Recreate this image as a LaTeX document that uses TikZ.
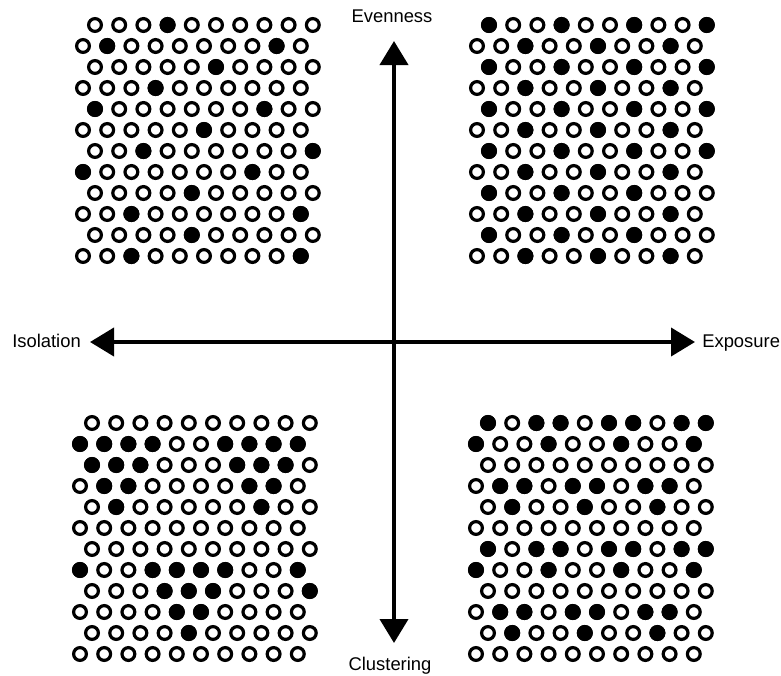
\documentclass[tikz,border=0pt]{standalone}
\usepackage{fontspec}
\setmainfont{Liberation Sans}
\usetikzlibrary{arrows.meta}
\tikzset{
  hollowdot/.style={draw=black,line width=2.4pt,fill=white},
  fulldot/.style={draw=black,line width=2.4pt,fill=black},
  axisarrow/.style={{Triangle[length=18pt,width=21pt]}-{Triangle[length=18pt,width=21pt]},line width=3pt},
  axislabel/.style={inner sep=0pt,font=\fontsize{13.8}{16}\selectfont}
}
% #1 x of unshifted rows, #2 y of first row, #3 shift of odd rows, #4 filled dots col/row
\newcommand{\dotgrid}[4]{%
  \foreach \r in {1,...,12}{
    \foreach \c in {1,...,10}{
      \draw[hollowdot] ({#1+(\c-1)*24.2+mod(\r,2)*#3},{#2+(\r-1)*21}) circle[radius=4.8pt];
    }
  }
  \foreach \c/\r in {#4}{
    \draw[fulldot] ({#1+(\c-1)*24.2+mod(\r,2)*#3},{#2+(\r-1)*21}) circle[radius=4.8pt];
  }
}
\begin{document}
\begin{tikzpicture}[x=0.75pt,y=-0.75pt]
  \useasboundingbox (0,0) rectangle (781,675);
  % evenness / isolation
  \dotgrid{83}{25}{12}{4/1, 2/2, 9/2, 6/3, 4/4, 1/5, 8/5, 6/6, 3/7, 10/7, 1/8, 8/8,
    5/9, 3/10, 10/10, 5/11, 3/12, 10/12}
  % evenness / exposure
  \dotgrid{477}{25}{12}{1/1, 4/1, 7/1, 10/1, 3/2, 6/2, 9/2, 1/3, 4/3, 7/3, 10/3,
    3/4, 6/4, 9/4, 1/5, 4/5, 7/5, 10/5, 3/6, 6/6, 9/6, 1/7, 4/7, 7/7, 10/7,
    3/8, 6/8, 9/8, 1/9, 4/9, 7/9, 3/10, 6/10, 9/10, 1/11, 4/11, 7/11, 3/12, 6/12, 9/12}
  % clustering / isolation
  \dotgrid{80}{423}{12}{1/2, 2/2, 3/2, 4/2, 7/2, 8/2, 9/2, 10/2, 1/3, 2/3, 3/3, 7/3, 8/3, 9/3,
    2/4, 3/4, 8/4, 9/4, 2/5, 8/5, 1/8, 4/8, 5/8, 6/8, 7/8, 10/8, 4/9, 5/9, 6/9, 10/9,
    5/10, 6/10, 5/11}
  % clustering / exposure
  \dotgrid{476}{423}{12}{1/1, 3/1, 4/1, 6/1, 7/1, 9/1, 10/1, 1/2, 4/2, 7/2, 10/2,
    2/4, 3/4, 5/4, 6/4, 8/4, 9/4, 2/5, 5/5, 8/5,
    1/7, 3/7, 4/7, 6/7, 7/7, 9/7, 10/7, 1/8, 4/8, 7/8, 10/8,
    2/10, 3/10, 5/10, 6/10, 8/10, 9/10, 2/11, 5/11, 8/11}
  % axes
  \coordinate (top) at (394,41);
  \coordinate (bottom) at (394,643);
  \coordinate (left) at (90,342);
  \coordinate (right) at (695,342);
  \draw[axisarrow] (left) -- (right);
  \draw[axisarrow] (bottom) -- (top);
  \node[axislabel,anchor=base] (even) at (392,22) {Evenness};
  \node[axislabel,anchor=base west] (iso) at (12,347) {Isolation};
  \node[axislabel,anchor=base west] (expo) at (702,347) {Exposure};
  \node[axislabel,anchor=base] (clus) at (390,670) {Clustering};
\end{tikzpicture}
\end{document}
